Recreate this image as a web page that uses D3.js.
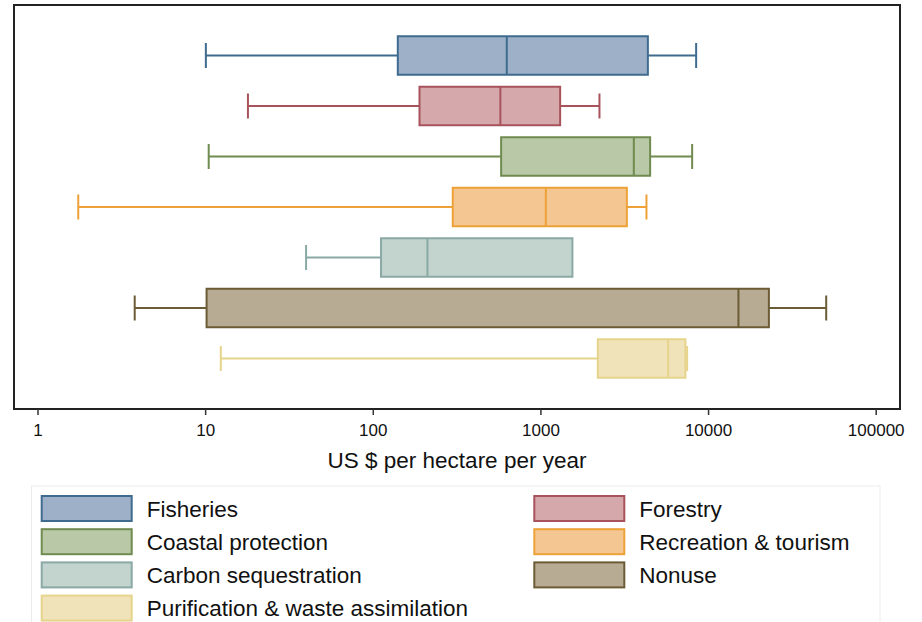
<!DOCTYPE html>
<html>
<head>
<meta charset="utf-8">
<script src="https://cdn.jsdelivr.net/npm/d3@7"></script>
<style>
  html, body { margin: 0; padding: 0; background: #fff; }
  svg { display: block; font-family: "Liberation Sans", Arial, Helvetica, sans-serif; }
</style>
</head>
<body>
<svg id="chart" width="922" height="622"></svg>
<script>
// Ecosystem service values, US $ per hectare per year (log scale)
const categories = [
  "Fisheries",
  "Forestry",
  "Coastal protection",
  "Recreation & tourism",
  "Carbon sequestration",
  "Nonuse",
  "Purification & waste assimilation"
];
const lowWhisker  = [10.1, 18.0, 10.5, 1.75, 40, 3.8, 12.4];
const q1          = [141, 190, 583, 300, 112, 10.2, 2200];
const median      = [630, 577, 3607, 1077, 212, 15180, 5780];
const q3          = [4375, 1311, 4512, 3278, 1552, 23060, 7330];
const highWhisker = [8490, 2250, 8037, 4291, 1552, 50670, 7500];
const fillColors   = ["#9db0c7", "#d5a9ab", "#b9c9a7", "#f4c792", "#c3d3cd", "#b7ab94", "#f0e3b9"];
const strokeColors = ["#3f6b8f", "#a8525c", "#6f8b4f", "#eda136", "#8aa9a5", "#6b5c35", "#e6d48c"];
const tickValues = [1, 10, 100, 1000, 10000, 100000];
const axisTitle = "US $ per hectare per year";

const svg = d3.select("#chart");

const frame = { left: 14, right: 900, top: 5, bottom: 409 };

const x = d3.scaleLog().domain([1, 100000]).range([37.5, 875.7]);
const y = d3.scalePoint().domain(categories).range([frame.top, frame.bottom]).padding(1);
const boxH = 38.5;
const capH = 25;

const rows = categories.map((c, i) => ({
  name: c, lo: lowWhisker[i], q1: q1[i], med: median[i], q3: q3[i], hi: highWhisker[i],
  fill: fillColors[i], stroke: strokeColors[i]
}));

const g = svg.append("g");

const row = g.selectAll("g.row").data(rows).join("g")
  .attr("class", "row")
  .attr("transform", d => `translate(0,${y(d.name)})`);

// lower whisker
row.append("line")
  .attr("x1", d => x(d.lo)).attr("x2", d => x(d.q1))
  .attr("y1", 0).attr("y2", 0)
  .attr("stroke", d => d.stroke).attr("stroke-width", 2);
row.append("line")
  .attr("x1", d => x(d.lo)).attr("x2", d => x(d.lo))
  .attr("y1", -capH / 2).attr("y2", capH / 2)
  .attr("stroke", d => d.stroke).attr("stroke-width", 2);

// upper whisker
row.filter(d => d.hi > d.q3).append("line")
  .attr("x1", d => x(d.q3)).attr("x2", d => x(d.hi))
  .attr("y1", 0).attr("y2", 0)
  .attr("stroke", d => d.stroke).attr("stroke-width", 2);
row.filter(d => d.hi > d.q3).append("line")
  .attr("x1", d => x(d.hi)).attr("x2", d => x(d.hi))
  .attr("y1", -capH / 2).attr("y2", capH / 2)
  .attr("stroke", d => d.stroke).attr("stroke-width", 2);

// interquartile box
row.append("rect")
  .attr("x", d => x(d.q1)).attr("width", d => x(d.q3) - x(d.q1))
  .attr("y", -boxH / 2).attr("height", boxH)
  .attr("fill", d => d.fill).attr("stroke", d => d.stroke).attr("stroke-width", 2);

// median
row.append("line")
  .attr("x1", d => x(d.med)).attr("x2", d => x(d.med))
  .attr("y1", -boxH / 2).attr("y2", boxH / 2)
  .attr("stroke", d => d.stroke).attr("stroke-width", 2);

// plot frame
svg.append("rect")
  .attr("x", frame.left).attr("y", frame.top)
  .attr("width", frame.right - frame.left).attr("height", frame.bottom - frame.top)
  .attr("fill", "none").attr("stroke", "#222").attr("stroke-width", 2);

// x axis
const xAxis = d3.axisBottom(x).tickValues(tickValues).tickFormat(d3.format("d"))
  .tickSize(6).tickPadding(9);
const ax = svg.append("g").attr("transform", `translate(0,${frame.bottom})`).call(xAxis);
ax.select(".domain").remove();
ax.selectAll(".tick line").attr("stroke", "#333").attr("stroke-width", 1.5);
ax.selectAll(".tick text").attr("fill", "#111").style("font-size", "17px")
  .style("font-family", "'Liberation Sans', Arial, sans-serif");

svg.append("text")
  .attr("x", (frame.left + frame.right) / 2)
  .attr("y", 468)
  .attr("text-anchor", "middle")
  .attr("fill", "#111")
  .style("font-size", "22.5px")
  .text(axisTitle);

// legend
const legend = svg.append("g");
legend.append("rect")
  .attr("x", 31.5).attr("y", 486).attr("width", 848.5).attr("height", 150)
  .attr("fill", "#fff").attr("stroke", "#ececec").attr("stroke-width", 1);

const colX = [41.7, 534.3];
const rowY0 = 508.5, rowStep = 33.2;
const item = legend.selectAll("g.item").data(rows).join("g")
  .attr("class", "item")
  .attr("transform", (d, i) => `translate(${colX[i % 2]},${rowY0 + Math.floor(i / 2) * rowStep})`);
item.append("rect")
  .attr("x", 0).attr("y", -12.5).attr("width", 90).attr("height", 25)
  .attr("fill", d => d.fill).attr("stroke", d => d.stroke).attr("stroke-width", 2);
item.append("text")
  .attr("x", 105).attr("y", 8)
  .attr("fill", "#111")
  .style("font-size", "22.5px")
  .text(d => d.name);
</script>
</body>
</html>
